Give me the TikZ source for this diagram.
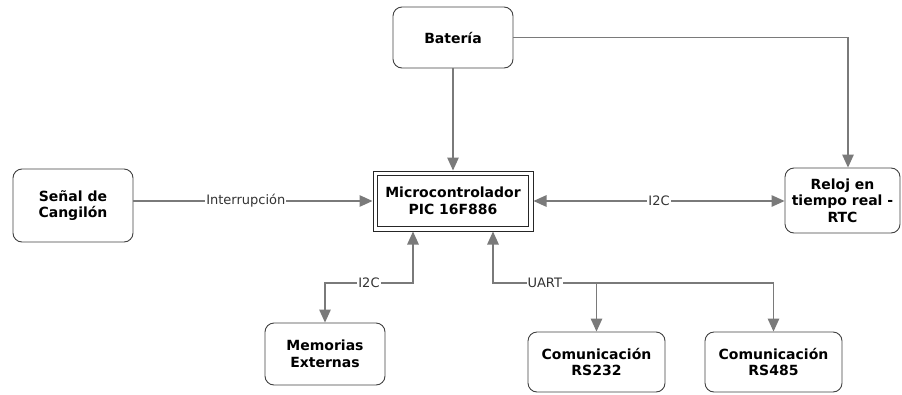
\documentclass[tikz,border=0pt]{standalone}
\usepackage{fontspec}
\setmainfont{DejaVu Sans}
\usetikzlibrary{arrows.meta}
\begin{document}
\begin{tikzpicture}[x=1pt,y=-1pt,
  box/.style={draw=black!75, line width=0.9pt, rounded corners=9pt, align=center,
    font=\bfseries\fontsize{14}{16.5}\selectfont, inner sep=0pt, text=black},
  micro/.style={draw=black!85, line width=1pt, align=center,
    font=\bfseries\fontsize{14}{16.5}\selectfont, inner sep=0pt, text=black},
  conn/.style={draw=black!52, line width=1.3pt},
  tip/.tip={Triangle[length=13pt,width=11.5pt]},
  lbl/.style={fill=white, inner sep=1pt, text=black!80, font=\fontsize{13}{14}\selectfont}
]
\useasboundingbox (0,0) rectangle (902,394);
\node[box, minimum width=120pt, minimum height=61pt] (bat) at (453,37.5) {Batería};
\node[box, minimum width=120pt, minimum height=73pt] (sen) at (73,205.5) {Señal de\\Cangilón};
\node[micro, minimum width=160pt, minimum height=60pt] (mic) at (453,201) {Microcontrolador\\PIC 16F886};
\draw[black!85, line width=1pt] ([shift={(5,5)}]mic.north west) rectangle ([shift={(-5,-5)}]mic.south east);
\node[box, minimum width=115pt, minimum height=65pt] (rtc) at (842.5,200.5) {Reloj en\\tiempo real -\\RTC};
\node[box, minimum width=120pt, minimum height=62pt] (mem) at (325,354) {Memorias\\Externas};
\node[box, minimum width=137pt, minimum height=60pt] (rs232) at (596.5,362) {Comunicación\\RS232};
\node[box, minimum width=137pt, minimum height=60pt] (rs485) at (773.5,362) {Comunicación\\RS485};

\coordinate (m1) at (413,283);
\coordinate (u1) at (493,283);

\draw[conn,-tip] (bat) -- (mic);
\draw[conn,-tip] (bat.east) -| ([xshift=5.5pt]rtc.north);
\draw[conn,-tip] (mic.west -| sen.east) -- node[lbl,pos=0.47]{Interrupción} (mic.west);
\draw[conn,tip-tip] (mic.east) -- node[lbl]{I2C} (mic.east -| rtc.west);
\draw[conn,tip-tip] ([xshift=-40pt]mic.south) -- (m1) -- node[lbl]{I2C} (m1 -| mem.north) -- (mem.north);
\draw[conn,tip-tip] ([xshift=40pt]mic.south) -- (u1) -- node[lbl]{UART} (u1 -| rs232.north) -- (u1 -| rs485.north) -- (rs485.north);
\draw[conn,-tip] (u1 -| rs232.north) -- (rs232.north);
\end{tikzpicture}
\end{document}
